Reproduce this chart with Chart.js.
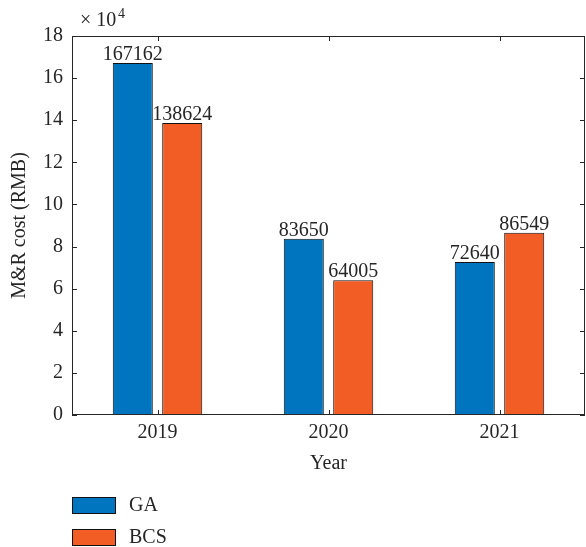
<!DOCTYPE html>
<html>
<head>
<meta charset="utf-8">
<script src="https://cdn.jsdelivr.net/npm/chart.js@4"></script>
<style>
  body { margin: 0; background: #fff; }
  #wrap { width: 586px; height: 547px; }
</style>
</head>
<body>
<div id="wrap"><canvas id="chart_canvas" width="586" height="547"></canvas></div>
<script>
var years = ['2019', '2020', '2021'];
var gaCost = [167162, 83650, 72640];
var bcsCost = [138624, 64005, 86549];
var seriesNames = ['GA', 'BCS'];
var barColors = ['#0075BF', '#F15D24'];

var serif = "'Liberation Serif', 'DejaVu Serif', serif";
var ink = '#262626';

// box, inward ticks, value labels, x10^4 note and legend
var matlabLook = {
    id: 'matlabLook',
    afterDatasetsDraw: function (chart) {
        var ctx = chart.ctx;
        var a = chart.chartArea;
        var xs = chart.scales.x;
        var ys = chart.scales.y;
        ctx.save();
        ctx.strokeStyle = ink;
        ctx.lineWidth = 1;
        ctx.strokeRect(a.left + 0.5, a.top + 0.5, a.right - a.left - 1, a.bottom - a.top - 1);
        ctx.beginPath();
        ys.ticks.forEach(function (t) {
            var y = Math.round(ys.getPixelForValue(t.value)) + 0.5;
            ctx.moveTo(a.left, y); ctx.lineTo(a.left + 5, y);
            ctx.moveTo(a.right, y); ctx.lineTo(a.right - 5, y);
        });
        for (var i = 0; i < years.length; i++) {
            var x = Math.round(xs.getPixelForValue(i)) + 0.5;
            ctx.moveTo(x, a.bottom); ctx.lineTo(x, a.bottom - 5);
            ctx.moveTo(x, a.top); ctx.lineTo(x, a.top + 5);
        }
        ctx.stroke();

        ctx.fillStyle = ink;
        ctx.font = '20px ' + serif;
        ctx.textAlign = 'center';
        ctx.textBaseline = 'alphabetic';
        chart.data.datasets.forEach(function (ds, di) {
            chart.getDatasetMeta(di).data.forEach(function (bar, j) {
                ctx.fillText(String(ds.data[j]), bar.x, bar.y - 3);
            });
        });

        ctx.textAlign = 'left';
        ctx.font = '20px ' + serif;
        ctx.fillText('\u00d7 10', 80, 26);
        ctx.font = '14px ' + serif;
        ctx.fillText('4', 118, 18);

        // legend
        ctx.font = '20px ' + serif;
        ctx.textBaseline = 'middle';
        chart.data.datasets.forEach(function (ds, di) {
            var top = 497 + di * 32;
            ctx.fillStyle = ds.backgroundColor;
            ctx.fillRect(72, top, 44, 17);
            ctx.strokeStyle = '#111';
            ctx.lineWidth = 1;
            ctx.strokeRect(72.5, top + 0.5, 43, 16);
            ctx.fillStyle = ink;
            ctx.fillText(ds.label, 129, top + 9);
        });
        ctx.restore();
    }
};

new Chart('chart_canvas', {
    type: 'bar',
    data: {
        labels: years,
        datasets: [
            { label: seriesNames[0], data: gaCost, backgroundColor: barColors[0], borderColor: '#111', borderWidth: 1 },
            { label: seriesNames[1], data: bcsCost, backgroundColor: barColors[1], borderColor: '#111', borderWidth: 1 }
        ]
    },
    options: {
        responsive: false,
        animation: false,
        layout: { padding: { left: 0, right: 1, top: 36, bottom: 71 } },
        datasets: { bar: { categoryPercentage: 0.578, barPercentage: 0.81 } },
        plugins: { legend: { display: false }, tooltip: { enabled: false } },
        scales: {
            x: {
                grid: { display: false, drawTicks: false },
                border: { display: false },
                ticks: { color: ink, font: { family: serif, size: 20 }, padding: 6 },
                title: { display: true, text: 'Year', color: ink, font: { family: serif, size: 20 }, padding: 0 },
                afterFit: function (s) { s.height = 61; }
            },
            y: {
                min: 0,
                max: 180000,
                grid: { display: false, drawTicks: false },
                border: { display: false },
                ticks: {
                    stepSize: 20000,
                    color: ink,
                    font: { family: serif, size: 20 },
                    padding: 9,
                    callback: function (v) { return v / 10000; }
                },
                title: { display: true, text: 'M&R cost (RMB)', color: ink, font: { family: serif, size: 20 }, padding: { top: 8, bottom: 0 } },
                afterFit: function (s) { s.width = 72; }
            }
        }
    },
    plugins: [matlabLook]
});
</script>
</body>
</html>
